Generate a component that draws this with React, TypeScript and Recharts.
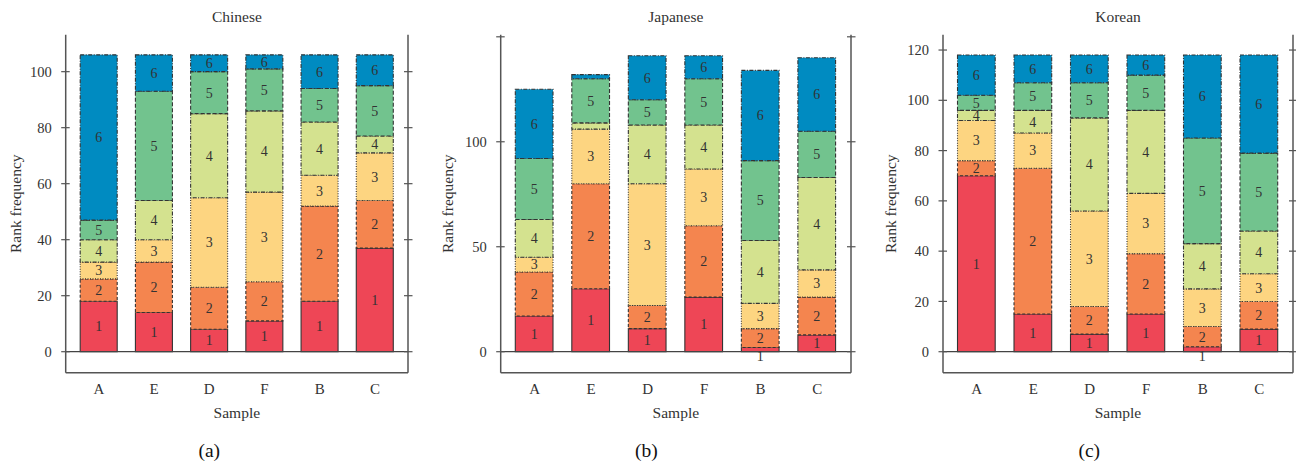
import React from 'react';
import { BarChart, Bar, XAxis, YAxis, ReferenceLine, LabelList } from 'recharts';

const categories = ['A', 'E', 'D', 'F', 'B', 'C'];

const chineseRank1 = [18, 14, 8, 11, 18, 37];
const chineseRank2 = [8, 18, 15, 14, 34, 17];
const chineseRank3 = [6, 8, 32, 32, 11, 17];
const chineseRank4 = [8, 14, 30, 29, 19, 6];
const chineseRank5 = [7, 39, 15, 15, 12, 18];
const chineseRank6 = [59, 13, 6, 5, 12, 11];

const japaneseRank1 = [17, 30, 11, 26, 2, 8];
const japaneseRank2 = [21, 50, 11, 34, 9, 18];
const japaneseRank3 = [7, 26, 58, 27, 12, 13];
const japaneseRank4 = [18, 3, 28, 21, 30, 44];
const japaneseRank5 = [29, 21, 12, 22, 38, 22];
const japaneseRank6 = [33, 2, 21, 11, 43, 35];

const koreanRank1 = [70, 15, 7, 15, 2, 9];
const koreanRank2 = [6, 58, 11, 24, 8, 11];
const koreanRank3 = [16, 14, 38, 24, 15, 11];
const koreanRank4 = [4, 9, 37, 33, 18, 17];
const koreanRank5 = [6, 11, 14, 14, 42, 31];
const koreanRank6 = [16, 11, 11, 8, 33, 39];

const chineseTicks = [0, 20, 40, 60, 80, 100];
const japaneseTicks = [0, 50, 100, 150];
const koreanTicks = [0, 20, 40, 60, 80, 100, 120];

const rankNames = ['1', '2', '3', '4', '5', '6'];
const rankColors = ['#EE4656', '#F4854F', '#FDD581', '#D4E28F', '#72C38E', '#008BC1'];
const rankDash = ['', '3 2', '1 1.5', '4 1.5 1 1.5', '4 2', '4 1.5 1 1.5'];

const FONT = '"Liberation Serif", "DejaVu Serif", serif';
const TEXT = '#333';
const FRAME = '#555';

function buildRows(ranks: number[][]) {
  return categories.map((cat, i) => {
    const row: Record<string, any> = { cat };
    ranks.forEach((r, k) => {
      row['r' + (k + 1)] = r[i];
    });
    return row;
  });
}

type PanelProps = {
  left: number;
  plotLeft: number;
  plotRight: number;
  domain: [number, number];
  ticks: number[];
  hidden?: number[];
  pad: number;
  barSize: number;
  rows: Record<string, any>[];
};

const PLOT_TOP = 34.7;
const PLOT_BOTTOM = 372.7;
const W = 432;
const H = 462;
const YW = 40;
const RW = 2;
const XH = 30;

function makeLabel(name: string, k: number) {
  return (props: any) => {
    const x = Number(props.x);
    const y = Number(props.y);
    const w = Number(props.width);
    const h = Math.abs(Number(props.height));
    const top = Math.min(y, y + Number(props.height));
    let cy = top + h / 2;
    if (h < 8) {
      if (k !== 0) return null;
      cy = top + h + 4;
    }
    return (
      <text x={x + w / 2} y={cy} dy="0.35em" textAnchor="middle" fill={TEXT} fontSize={14} fontFamily={FONT}>
        {name}
      </text>
    );
  };
}

function Panel(p: PanelProps) {
  const leftTick = (props: any) => {
    const { x, y, payload } = props;
    const hide = p.hidden && p.hidden.includes(payload.value);
    return (
      <g>
        <line x1={x - 4.5} x2={x + 4} y1={y} y2={y} stroke={FRAME} strokeWidth={1.2} />
        {!hide && (
          <text x={x - 14} y={y} dy="0.35em" textAnchor="end" fill={TEXT} fontSize={14.5} fontFamily={FONT}>
            {payload.value}
          </text>
        )}
      </g>
    );
  };
  const rightTick = (props: any) => {
    const { x, y } = props;
    return <line x1={x - 4} x2={x + 4.5} y1={y} y2={y} stroke={FRAME} strokeWidth={1.2} />;
  };
  return (
    <div style={{ position: 'absolute', left: p.left, top: 0, width: W, height: H }}>
      <BarChart
        width={W}
        height={H}
        data={p.rows}
        margin={{
          top: PLOT_TOP,
          bottom: H - PLOT_BOTTOM - XH,
          left: p.plotLeft - YW,
          right: W - p.plotRight - RW,
        }}
        barSize={p.barSize}
      >
        <XAxis
          dataKey="cat"
          height={XH}
          padding={{ left: p.pad, right: p.pad }}
          tickLine={false}
          tickSize={0}
          tickMargin={11}
          axisLine={{ stroke: FRAME, strokeWidth: 1.5 }}
          tick={{ fill: TEXT, fontSize: 15, fontFamily: FONT }}
        />
        <XAxis
          xAxisId="top"
          orientation="top"
          dataKey="cat"
          height={0}
          tick={false}
          tickLine={false}
          axisLine={{ stroke: FRAME, strokeWidth: 1.5 }}
        />
        <YAxis
          type="number"
          width={YW}
          domain={p.domain}
          ticks={p.ticks}
          allowDataOverflow
          interval={0}
          tickLine={false}
          tickSize={0}
          tickMargin={0}
          tick={leftTick}
          axisLine={{ stroke: FRAME, strokeWidth: 1.5 }}
        />
        <YAxis
          yAxisId="r"
          orientation="right"
          type="number"
          width={RW}
          domain={p.domain}
          ticks={p.ticks}
          allowDataOverflow
          interval={0}
          tickLine={false}
          tickSize={0}
          tickMargin={0}
          tick={rightTick}
          axisLine={{ stroke: FRAME, strokeWidth: 1.5 }}
        />
        <ReferenceLine y={0} stroke="#444" strokeWidth={1.2} />
        {rankNames.map((name, k) => (
          <Bar
            key={name}
            dataKey={'r' + (k + 1)}
            stackId="s"
            fill={rankColors[k]}
            stroke="#333"
            strokeWidth={1.1}
            strokeDasharray={rankDash[k] || undefined}
            isAnimationActive={false}
          >
            <LabelList dataKey={'r' + (k + 1)} content={makeLabel(name, k)} />
          </Bar>
        ))}
      </BarChart>
    </div>
  );
}

const panels = [
  {
    title: 'Chinese', tag: '(a)', left: 0, plotLeft: 65.7, plotRight: 408, domain: [-7.5, 113.2] as [number, number],
    ticks: chineseTicks, hidden: [] as number[], pad: 5.5, barSize: 37,
    rows: buildRows([chineseRank1, chineseRank2, chineseRank3, chineseRank4, chineseRank5, chineseRank6]),
    ylabelX: 16, tagX: 209.3,
  },
  {
    title: 'Japanese', tag: '(b)', left: 432, plotLeft: 68.7, plotRight: 419, domain: [-10, 151] as [number, number],
    ticks: japaneseTicks, hidden: [150], pad: 5.6, barSize: 37.7,
    rows: buildRows([japaneseRank1, japaneseRank2, japaneseRank3, japaneseRank4, japaneseRank5, japaneseRank6]),
    ylabelX: 16, tagX: 214.3,
  },
  {
    title: 'Korean', tag: '(c)', left: 864, plotLeft: 79, plotRight: 429, domain: [-8.35, 126.1] as [number, number],
    ticks: koreanTicks, hidden: [] as number[], pad: 5.5, barSize: 37.7,
    rows: buildRows([koreanRank1, koreanRank2, koreanRank3, koreanRank4, koreanRank5, koreanRank6]),
    ylabelX: 27, tagX: 225.3,
  },
];

export default function App() {
  return (
    <div style={{ position: 'absolute', left: 0, top: 0, width: 1296, height: 462, background: '#fff', overflow: 'hidden' }}>
      {panels.map((pp) => (
        <Panel key={pp.title} {...pp} />
      ))}
      <svg width={1296} height={462} style={{ position: 'absolute', left: 0, top: 0, pointerEvents: 'none' }}>
        {panels.map((pp) => {
          const cx = pp.left + (pp.plotLeft + pp.plotRight) / 2;
          const cy = (PLOT_TOP + PLOT_BOTTOM) / 2;
          return (
            <g key={pp.title} fontFamily={FONT} fill={TEXT}>
              <text x={cx} y={16.5} dy="0.35em" textAnchor="middle" fontSize={15.5}>{pp.title}</text>
              <text x={cx} y={413} dy="0.35em" textAnchor="middle" fontSize={15.5}>Sample</text>
              <text x={pp.left + pp.tagX} y={450} dy="0.35em" textAnchor="middle" fontSize={19.5} fill="#111">{pp.tag}</text>
              <text
                x={pp.left + pp.ylabelX}
                y={cy}
                dy="0.35em"
                textAnchor="middle"
                fontSize={15.5}
                transform={`rotate(-90 ${pp.left + pp.ylabelX} ${cy})`}
              >
                Rank frequency
              </text>
            </g>
          );
        })}
      </svg>
    </div>
  );
}
